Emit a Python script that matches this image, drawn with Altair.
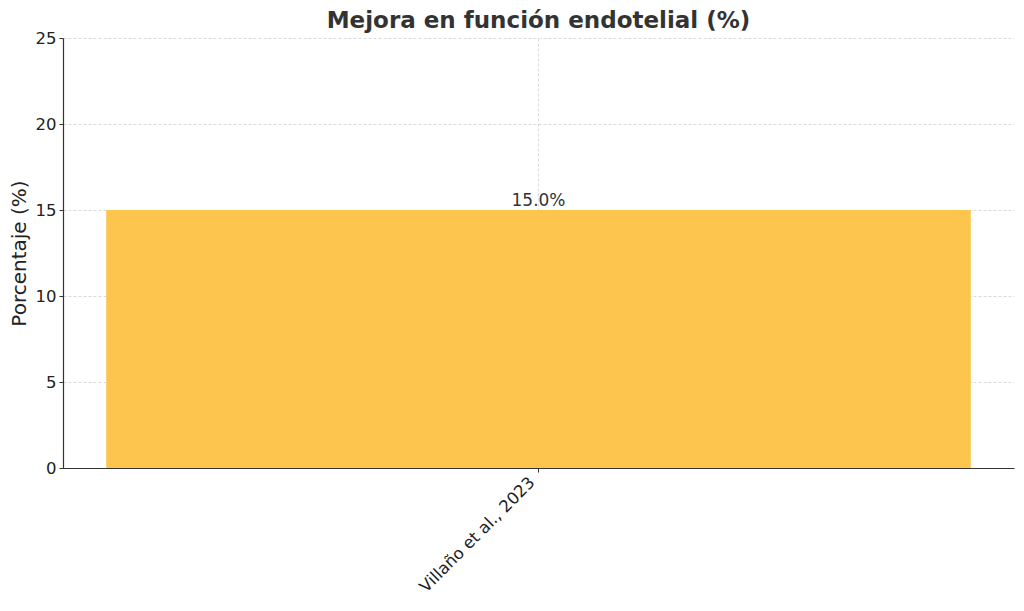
import altair as alt
import pandas as pd

studies = ["Villaño et al., 2023"]
values = [15.0]
labels = ["15.0%"]

df = pd.DataFrame({"study": studies, "value": values, "label": labels})

FONT = "DejaVu Sans"
GRID_DASH = [3, 2]
GRID_COLOR = "#d0d0d0"

x_enc = alt.X(
    "study:N",
    title=None,
    sort=None,
    scale=alt.Scale(paddingInner=0, paddingOuter=0.05),
    axis=alt.Axis(
        labelAngle=-45,
        labelAlign="right",
        labelBaseline="top",
        labelFontSize=16.5,
        labelColor="#222222",
        labelPadding=2,
        labelOffset=-12,
        bandPosition=0.5,
        grid=True,
        gridDash=GRID_DASH,
        gridColor=GRID_COLOR,
        gridWidth=0.8,
        tickColor="#333333",
        tickSize=4,
        domainColor="#333333",
        domainWidth=1.2,
    ),
)

y_enc = alt.Y(
    "value:Q",
    title="Porcentaje (%)",
    scale=alt.Scale(domain=[0, 25], nice=False),
    axis=alt.Axis(
        values=[0, 5, 10, 15, 20, 25],
        labelFontSize=16.5,
        labelColor="#222222",
        labelPadding=3,
        titleFontSize=20,
        titleFontWeight="normal",
        titleColor="#222222",
        titlePadding=6,
        grid=True,
        gridDash=GRID_DASH,
        gridColor=GRID_COLOR,
        gridWidth=0.8,
        tickColor="#333333",
        tickSize=4,
        domainColor="#333333",
        domainWidth=1.2,
    ),
)

bars = alt.Chart(df).mark_bar(color="#FDC44E").encode(x=x_enc, y=y_enc)

text = alt.Chart(df).mark_text(
    baseline="alphabetic", dy=-4, fontSize=17, color="#333333", font=FONT
).encode(x=alt.X("study:N", sort=None), y="value:Q", text="label:N")

chart = (
    alt.layer(bars, text)
    .properties(
        width=951,
        height=430,
        title=alt.TitleParams(
            "Mejora en función endotelial (%)",
            fontSize=23,
            fontWeight="bold",
            color="#333333",
            font=FONT,
            offset=8,
            dy=11,
        ),
        autosize=alt.AutoSizeParams(type="none"),
        padding={"left": 55, "top": 30, "right": 2, "bottom": 130},
    )
    .configure(font=FONT)
    .configure_view(stroke=None)
    .configure_axis(labelFont=FONT, titleFont=FONT)
)

chart.save("out.html", embed_options={"renderer": "svg", "actions": False})
